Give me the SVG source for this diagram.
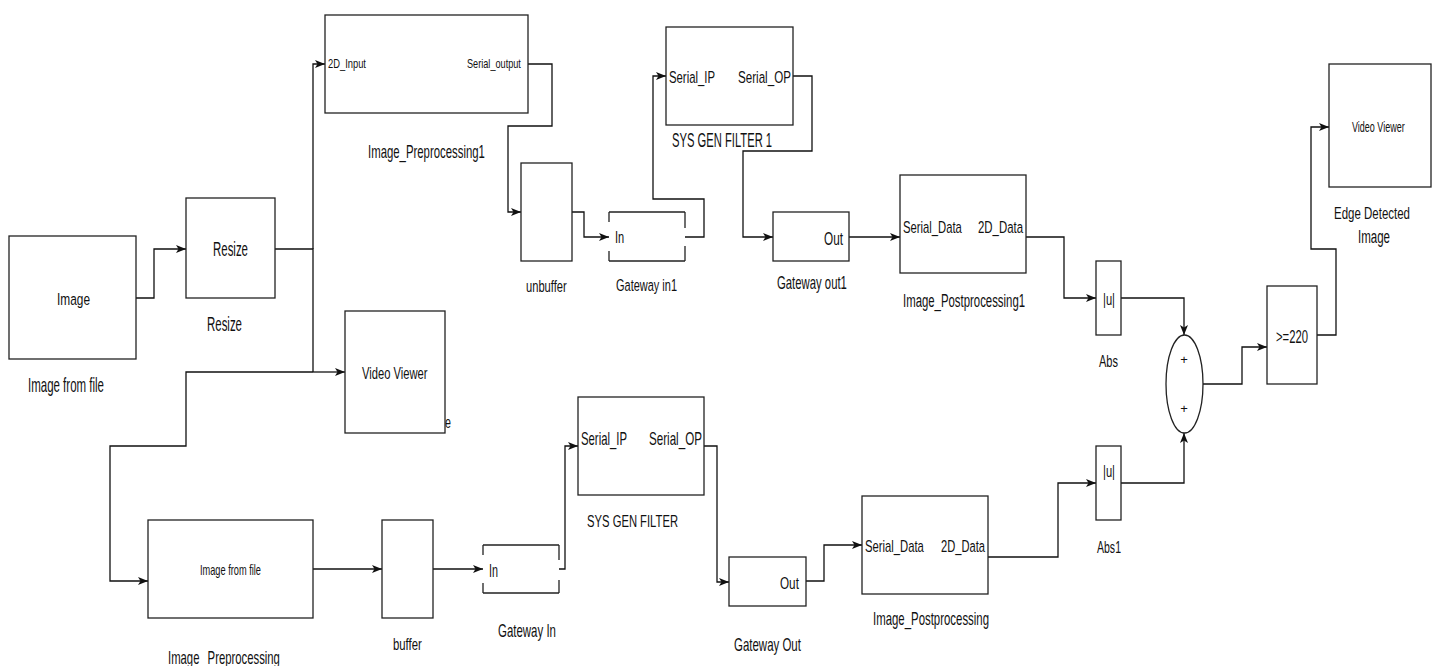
<svg xmlns="http://www.w3.org/2000/svg" width="1436" height="666" viewBox="0 0 1436 666">
<style>
text { font-family: "Liberation Sans", Arial, sans-serif; fill: #111; }
.box { fill: #fff; stroke: #222; stroke-width: 1.3; }
.gw { fill: none; stroke: #222; stroke-width: 1.3; }
.wire { fill: none; stroke: #111; stroke-width: 1.3; }
.arr { marker-end: url(#ah); }
.mid { text-anchor: middle; }
</style>
<defs>
<marker id="ah" viewBox="0 0 10 8" refX="10" refY="4" markerWidth="10" markerHeight="8" markerUnits="userSpaceOnUse" orient="auto">
<path d="M0,0 L10,4 L0,8 L2.5,4 z" fill="#111"/>
</marker>
</defs>
<rect width="1436" height="666" fill="#fff"/>

<g id="connectors">
<polyline class="wire arr" points="136,298 154,298 154,249 186,249"/>
<polyline class="wire" points="275,249 313,249 313,372"/>
<polyline class="wire arr" points="313,249 313,64 325,64"/>
<polyline class="wire arr" points="313,372 345,372"/>
<polyline class="wire arr" points="313,372 186,372 186,446 110,446 110,581 148,581"/>
<polyline class="wire arr" points="528,64 552,64 552,126 508,126 508,212 521,212"/>
<polyline class="wire arr" points="572,212 584,212 584,237 609,237"/>
<polyline class="wire arr" points="685,237 704,237 704,199 653,199 653,76 666,76"/>
<polyline class="wire arr" points="793,76 812,76 812,151 743,151 743,237 773,237"/>
<polyline class="wire arr" points="849,237 900,237"/>
<polyline class="wire arr" points="1026,237 1064,237 1064,298 1096,298"/>
<polyline class="wire arr" points="1121,298 1184,298 1184,335"/>
<polyline class="wire arr" points="1121,483 1184,483 1184,433"/>
<polyline class="wire arr" points="1203,384 1242,384 1242,347 1267,347"/>
<polyline class="wire arr" points="1317,335 1336,335 1336,249 1311,249 1311,127 1329,127"/>
<polyline class="wire arr" points="313,569 382,569"/>
<polyline class="wire arr" points="433,569 483,569"/>
<polyline class="wire arr" points="559,569 565,569 565,446 578,446"/>
<polyline class="wire arr" points="704,446 717,446 717,582 729,582"/>
<polyline class="wire arr" points="806,581 824,581 824,545 862,545"/>
<polyline class="wire arr" points="988,557 1058,557 1058,483 1096,483"/>
</g>

<g id="image-from-file">
<rect class="box" x="9" y="236" width="127" height="123"/>
<text transform="translate(57 305) scale(0.699 1)" font-size="17">Image</text>
<text transform="translate(28 392) scale(0.575 1)" font-size="20">Image from file</text>
</g>

<g id="resize">
<rect class="box" x="186" y="198" width="89" height="100"/>
<text transform="translate(213 256) scale(0.573 1)" font-size="20">Resize</text>
<text transform="translate(207 331) scale(0.573 1)" font-size="20">Resize</text>
</g>

<g id="image-preprocessing1">
<rect class="box" x="325" y="15" width="203" height="98"/>
<text transform="translate(328 68) scale(0.78 1)" font-size="12">2D_Input</text>
<text transform="translate(467 68) scale(0.764 1)" font-size="12">Serial_output</text>
<text transform="translate(368 158) scale(0.632 1)" font-size="18">Image_Preprocessing1</text>
</g>

<g id="unbuffer">
<rect class="box" x="521" y="163" width="51" height="98"/>
<text transform="translate(526 292) scale(0.657 1)" font-size="17">unbuffer</text>
</g>

<g id="gateway-in1">
<path class="gw" d="M609,212 H685 M609,261 H685 M609,212 V222 M609,251 V261 M685,212 V228 M685,246 V261"/>
<text transform="translate(615 243) scale(0.65 1)" font-size="17">In</text>
<text transform="translate(616 291) scale(0.646 1)" font-size="17">Gateway in1</text>
</g>

<g id="sys-gen-filter-1">
<rect class="box" x="666" y="27" width="127" height="98"/>
<text transform="translate(669 83) scale(0.667 1)" font-size="17">Serial_IP</text>
<text transform="translate(738 83) scale(0.684 1)" font-size="17">Serial_OP</text>
<text transform="translate(672 147) scale(0.561 1)" font-size="20">SYS GEN FILTER 1</text>
</g>

<g id="gateway-out1">
<rect class="box" x="773" y="212" width="76" height="49"/>
<text transform="translate(824 245) scale(0.62 1)" font-size="19">Out</text>
<text transform="translate(777 289) scale(0.63 1)" font-size="18">Gateway out1</text>
</g>

<g id="image-postprocessing1">
<rect class="box" x="900" y="175" width="126" height="98"/>
<text transform="translate(903 233) scale(0.664 1)" font-size="17">Serial_Data</text>
<text transform="translate(978 233) scale(0.671 1)" font-size="17">2D_Data</text>
<text transform="translate(903 307) scale(0.599 1)" font-size="19">Image_Postprocessing1</text>
</g>

<g id="abs">
<rect class="box" x="1096" y="261" width="25" height="74"/>
<text transform="translate(1103 305) scale(0.656 1)" font-size="17">|u|</text>
<text transform="translate(1099 367) scale(0.649 1)" font-size="17">Abs</text>
</g>

<g id="abs1">
<rect class="box" x="1096" y="446" width="25" height="74"/>
<text transform="translate(1103 477) scale(0.656 1)" font-size="17">|u|</text>
<text transform="translate(1097 553) scale(0.62 1)" font-size="17">Abs1</text>
</g>

<g id="sum">
<ellipse class="box" cx="1184.5" cy="384" rx="18.5" ry="49"/>
<text class="mid" x="1184" y="364" font-size="13">+</text>
<text class="mid" x="1184" y="413" font-size="13">+</text>
</g>

<g id="compare">
<rect class="box" x="1267" y="286" width="50" height="98"/>
<text transform="translate(1276 343) scale(0.627 1)" font-size="18">&gt;=220</text>
</g>

<g id="edge-video-viewer">
<rect class="box" x="1329" y="64" width="102" height="123"/>
<text transform="translate(1352 132) scale(0.643 1)" font-size="14">Video Viewer</text>
<text transform="translate(1334 219) scale(0.676 1)" font-size="17">Edge Detected</text>
<text transform="translate(1358 243) scale(0.64 1)" font-size="18">Image</text>
</g>

<g id="video-viewer">
<text transform="translate(445 428) scale(0.63 1)" font-size="17">e</text>
<rect class="box" x="345" y="311" width="100" height="122"/>
<text transform="translate(362 379) scale(0.659 1)" font-size="17">Video Viewer</text>
</g>

<g id="image-preprocessing">
<rect class="box" x="148" y="520" width="165" height="98"/>
<text transform="translate(200 575) scale(0.659 1)" font-size="14">Image from file</text>
<text transform="translate(168 664) scale(0.629 1)" font-size="18" word-spacing="8">Image Preprocessing</text>
</g>

<g id="buffer">
<rect class="box" x="382" y="520" width="51" height="98"/>
<text transform="translate(393 650) scale(0.667 1)" font-size="17">buffer</text>
</g>

<g id="gateway-in">
<path class="gw" d="M483,545 H559 M483,593 H559 M483,545 V555 M483,583 V593 M559,545 V560 M559,580 V593"/>
<text transform="translate(489 577) scale(0.6 1)" font-size="18">In</text>
<text transform="translate(498 637) scale(0.637 1)" font-size="18">Gateway In</text>
</g>

<g id="sys-gen-filter">
<rect class="box" x="578" y="397" width="126" height="98"/>
<text transform="translate(581 445) scale(0.63 1)" font-size="18">Serial_IP</text>
<text transform="translate(649 445) scale(0.646 1)" font-size="18">Serial_OP</text>
<text transform="translate(587 527) scale(0.662 1)" font-size="17">SYS GEN FILTER</text>
</g>

<g id="gateway-out">
<rect class="box" x="729" y="557" width="77" height="49"/>
<text transform="translate(780 589) scale(0.69 1)" font-size="17">Out</text>
<text transform="translate(734 651) scale(0.638 1)" font-size="18">Gateway Out</text>
</g>

<g id="image-postprocessing">
<rect class="box" x="862" y="496" width="126" height="98"/>
<text transform="translate(865 552) scale(0.664 1)" font-size="17">Serial_Data</text>
<text transform="translate(941 552) scale(0.656 1)" font-size="17">2D_Data</text>
<text transform="translate(873 625) scale(0.634 1)" font-size="18">Image_Postprocessing</text>
</g>
</svg>
